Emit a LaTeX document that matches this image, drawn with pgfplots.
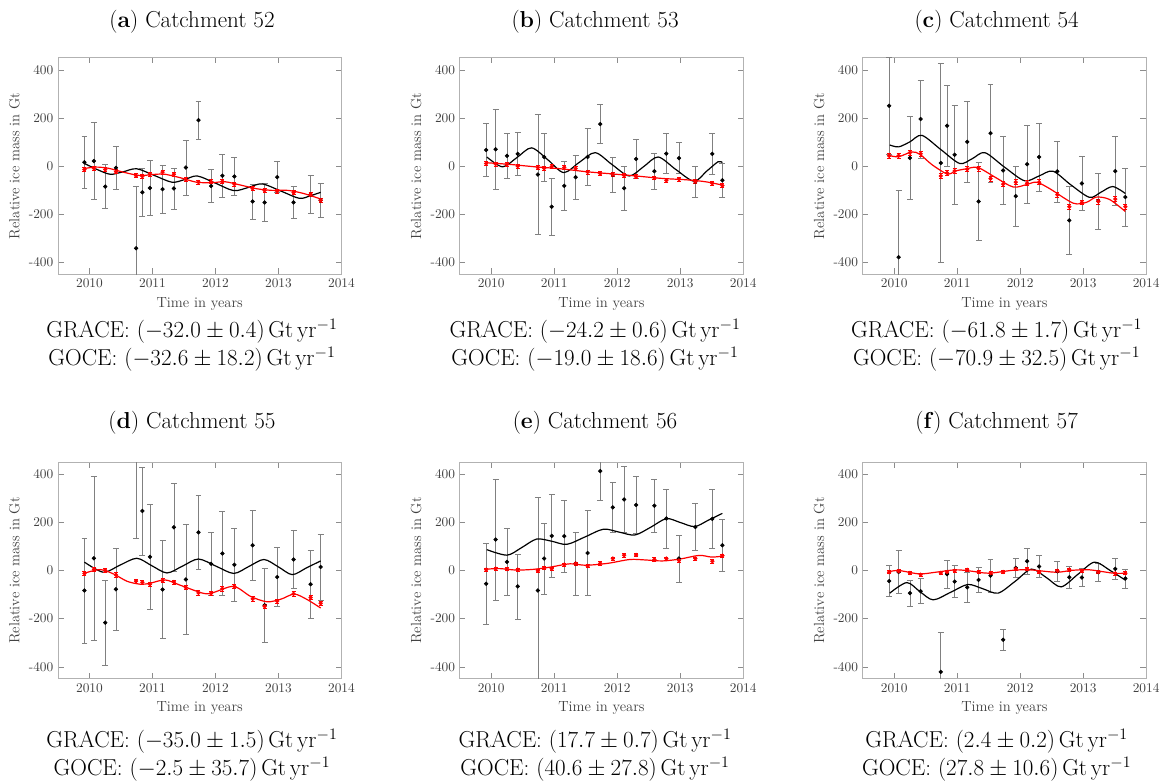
\documentclass[border=0pt]{standalone}
\usepackage{pgfplots}
\pgfplotsset{compat=1.18}

\pgfplotsset{
  catch/.style={
    scale only axis, width=212.6pt, height=162.2pt, anchor=south west,
    xmin=2009.5, xmax=2014, ymin=-450, ymax=450,
    xtick={2010,2011,2012,2013,2014}, xticklabels={2010,2011,2012,2013,2014},
    ytick={-400,-200,0,200,400}, yticklabels={-400,-200,0,200,400},
    axis line style={black!30},
    tick style={black!45},
    tick align=inside,
    tick label style={font=\fontsize{10}{12}\selectfont, text=black!75},
    label style={font=\fontsize{11}{13}\selectfont, text=black!75},
    xlabel={Time in years}, ylabel={Relative ice mass in Gt},
  },
  goce/.style={only marks, mark=*, mark size=1.4pt, black,
    error bars/.cd, y dir=both, y explicit,
    error bar style={black!50, line width=0.5pt},
    error mark options={rotate=90, black!50, mark size=2.2pt, line width=0.5pt}},
  grace/.style={only marks, mark=*, mark size=1.4pt, red,
    error bars/.cd, y dir=both, y explicit,
    error bar style={red, line width=0.5pt},
    error mark options={rotate=90, red, mark size=1.5pt, line width=0.5pt}},
  fitgoce/.style={black, line width=0.9pt, smooth, no markers},
  fitgrace/.style={red, line width=0.9pt, smooth, no markers},
}

\begin{document}
\begin{tikzpicture}
\useasboundingbox (0,0) rectangle (874.5pt,-586.5pt);

% (a) Catchment 52
\begin{axis}[catch, at={(43.5pt,-205.5pt)}]
\addplot[goce] coordinates {
(2009.92,15) +- (0,108) (2010.07,20) +- (0,160) (2010.25,-86) +- (0,92) (2010.42,-8) +- (0,90)
(2010.74,-343) +- (0,257) (2010.84,-110) +- (0,98) (2010.96,-92) +- (0,113) (2011.16,-97) +- (0,100)
(2011.34,-94) +- (0,85) (2011.53,-7) +- (0,114) (2011.73,190) +- (0,78) (2011.93,-84) +- (0,68)
(2012.11,-41) +- (0,89) (2012.30,-44) +- (0,79) (2012.59,-148) +- (0,73) (2012.78,-152) +- (0,79)
(2012.98,-47) +- (0,65) (2013.24,-152) +- (0,65) (2013.51,-119) +- (0,80) (2013.67,-143) +- (0,71)};
\addplot[fitgoce] coordinates {(2009.92,10) (2010.12,-15) (2010.33,-35) (2010.53,-25) (2010.75,-12) (2011.03,-40) (2011.31,-68) (2011.51,-57) (2011.71,-42) (2012.0,-72) (2012.29,-103) (2012.52,-90) (2012.74,-75) (2013.04,-105) (2013.33,-135) (2013.5,-125) (2013.67,-110)};
\addplot[fitgrace] coordinates {(2009.92,-11) (2010.1,-5) (2010.3,-10) (2010.55,-27) (2010.8,-40) (2011.05,-35) (2011.2,-35) (2011.45,-50) (2011.7,-68) (2011.95,-70) (2012.15,-66) (2012.4,-80) (2012.65,-95) (2012.9,-102) (2013.15,-102) (2013.4,-115) (2013.67,-138)};
\addplot[grace] coordinates {
(2009.92,-15) +- (0,8) (2010.07,-10) +- (0,8) (2010.25,-15) +- (0,8) (2010.42,-24) +- (0,8)
(2010.74,-41) +- (0,8) (2010.84,-43) +- (0,8) (2010.96,-35) +- (0,8) (2011.16,-26) +- (0,8)
(2011.34,-35) +- (0,8) (2011.53,-57) +- (0,8) (2011.73,-68) +- (0,8) (2011.93,-66) +- (0,8)
(2012.11,-65) +- (0,8) (2012.30,-76) +- (0,8) (2012.59,-94) +- (0,8) (2012.78,-102) +- (0,8)
(2012.98,-105) +- (0,8) (2013.24,-111) +- (0,8) (2013.51,-119) +- (0,8) (2013.67,-143) +- (0,8)};
\end{axis}

% (b) Catchment 53
\begin{axis}[catch, at={(344.8pt,-205.5pt)}]
\addplot[goce] coordinates {
(2009.92,66) +- (0,110) (2010.07,69) +- (0,166) (2010.25,42) +- (0,95) (2010.42,50) +- (0,89)
(2010.74,-36) +- (0,249) (2010.84,37) +- (0,100) (2010.96,-170) +- (0,118) (2011.16,-83) +- (0,101)
(2011.34,-47) +- (0,92) (2011.53,37) +- (0,119) (2011.73,174) +- (0,82) (2011.93,-37) +- (0,72)
(2012.11,-93) +- (0,93) (2012.30,29) +- (0,81) (2012.59,-22) +- (0,75) (2012.78,51) +- (0,83)
(2012.98,32) +- (0,65) (2013.24,-66) +- (0,66) (2013.51,50) +- (0,85) (2013.67,-60) +- (0,72)};
\addplot[fitgoce] coordinates {(2009.93,37) (2010.18,-4) (2010.41,35) (2010.64,75) (2010.9,25) (2011.15,-28) (2011.4,15) (2011.65,55) (2011.92,5) (2012.19,-42) (2012.42,-3) (2012.65,37) (2012.93,-15) (2013.22,-64) (2013.42,-22) (2013.6,17) (2013.67,14)};
\addplot[fitgrace] coordinates {(2009.93,13) (2010.3,6) (2010.7,-4) (2011.1,-12) (2011.5,-24) (2011.9,-33) (2012.3,-42) (2012.7,-52) (2013.1,-58) (2013.4,-66) (2013.67,-80)};
\addplot[grace] coordinates {
(2009.92,10) +- (0,8) (2010.07,8) +- (0,8) (2010.25,6) +- (0,8) (2010.42,-1) +- (0,8)
(2010.74,-7) +- (0,8) (2010.84,-10) +- (0,8) (2010.96,-3) +- (0,8) (2011.16,-6) +- (0,8)
(2011.34,-11) +- (0,8) (2011.53,-26) +- (0,8) (2011.73,-32) +- (0,8) (2011.93,-36) +- (0,8)
(2012.11,-40) +- (0,8) (2012.30,-45) +- (0,8) (2012.59,-50) +- (0,8) (2012.78,-60) +- (0,8)
(2012.98,-55) +- (0,8) (2013.24,-65) +- (0,8) (2013.51,-73) +- (0,8) (2013.67,-82) +- (0,8)};
\end{axis}

% (c) Catchment 54
\begin{axis}[catch, at={(647pt,-205.5pt)}]
\addplot[goce] coordinates {
(2009.92,250) +- (0,200) (2010.07,-380) +- (0,278) (2010.25,33) +- (0,172) (2010.42,195) +- (0,162)
(2010.74,12) +- (0,413) (2010.84,167) +- (0,170) (2010.96,46) +- (0,205) (2011.16,100) +- (0,168)
(2011.34,-148) +- (0,162) (2011.53,136) +- (0,205) (2011.73,-19) +- (0,140) (2011.93,-126) +- (0,124)
(2012.11,7) +- (0,162) (2012.30,37) +- (0,141) (2012.59,-23) +- (0,127) (2012.78,-227) +- (0,142)
(2012.98,-73) +- (0,113) (2013.24,-147) +- (0,116) (2013.51,-22) +- (0,144) (2013.67,-130) +- (0,121)};
\addplot[fitgoce] coordinates {(2009.93,87) (2010.07,79) (2010.25,100) (2010.44,127) (2010.74,68) (2011.04,10) (2011.24,30) (2011.44,55) (2011.75,-5) (2012.07,-62) (2012.3,-42) (2012.52,-22) (2012.8,-78) (2013.1,-131) (2013.28,-110) (2013.47,-86) (2013.67,-115)};
\addplot[fitgrace] coordinates {(2009.93,43) (2010.07,38) (2010.28,58) (2010.41,48) (2010.6,5) (2010.85,-35) (2010.96,-22) (2011.15,-12) (2011.33,-7) (2011.62,-50) (2011.89,-88) (2012.1,-78) (2012.26,-68) (2012.47,-95) (2012.84,-155) (2013.05,-152) (2013.21,-130) (2013.42,-140) (2013.67,-190)};
\addplot[grace] coordinates {
(2009.92,42) +- (0,10) (2010.07,42) +- (0,10) (2010.25,55) +- (0,10) (2010.42,50) +- (0,10)
(2010.74,-42) +- (0,10) (2010.84,-29) +- (0,10) (2010.96,-21) +- (0,10) (2011.16,-14) +- (0,10)
(2011.34,-11) +- (0,10) (2011.53,-53) +- (0,10) (2011.73,-76) +- (0,10) (2011.93,-68) +- (0,10)
(2012.11,-72) +- (0,10) (2012.30,-68) +- (0,10) (2012.59,-120) +- (0,10) (2012.78,-170) +- (0,10)
(2012.98,-152) +- (0,10) (2013.24,-148) +- (0,10) (2013.51,-138) +- (0,10) (2013.67,-170) +- (0,10)};
\end{axis}

% (d) Catchment 55
\begin{axis}[catch, at={(43.5pt,-509pt)}]
\addplot[goce] coordinates {
(2009.92,-83) +- (0,218) (2010.07,51) +- (0,342) (2010.25,-217) +- (0,178) (2010.42,-78) +- (0,170)
(2010.74,480) +- (0,345) (2010.84,248) +- (0,183) (2010.96,57) +- (0,220) (2011.16,-79) +- (0,204)
(2011.34,180) +- (0,183) (2011.53,-37) +- (0,228) (2011.73,159) +- (0,155) (2011.93,28) +- (0,130)
(2012.11,71) +- (0,175) (2012.30,24) +- (0,153) (2012.59,105) +- (0,145) (2012.78,-144) +- (0,155)
(2012.98,-27) +- (0,124) (2013.24,46) +- (0,122) (2013.51,-57) +- (0,142) (2013.67,15) +- (0,137)};
\addplot[fitgoce] coordinates {(2009.92,35) (2010.22,-7) (2010.48,22) (2010.75,51) (2010.99,20) (2011.23,-10) (2011.48,19) (2011.73,48) (2012.01,18) (2012.29,-12) (2012.53,17) (2012.77,46) (2013.0,15) (2013.22,-17) (2013.45,12) (2013.67,40)};
\addplot[fitgrace] coordinates {(2009.92,-11) (2010.17,4) (2010.38,-14) (2010.6,-45) (2010.81,-57) (2010.96,-53) (2011.2,-39) (2011.44,-61) (2011.81,-95) (2011.97,-91) (2012.29,-66) (2012.56,-108) (2012.82,-130) (2013.04,-119) (2013.25,-98) (2013.45,-120) (2013.67,-156)};
\addplot[grace] coordinates {
(2009.92,-12) +- (0,9) (2010.07,5) +- (0,9) (2010.25,1) +- (0,9) (2010.42,-18) +- (0,9)
(2010.74,-44) +- (0,9) (2010.84,-49) +- (0,9) (2010.96,-57) +- (0,9) (2011.16,-42) +- (0,9)
(2011.34,-48) +- (0,9) (2011.53,-71) +- (0,9) (2011.73,-93) +- (0,9) (2011.93,-95) +- (0,9)
(2012.11,-76) +- (0,9) (2012.30,-66) +- (0,9) (2012.59,-118) +- (0,9) (2012.78,-149) +- (0,9)
(2012.98,-127) +- (0,9) (2013.24,-97) +- (0,9) (2013.51,-112) +- (0,9) (2013.67,-136) +- (0,9)};
\end{axis}

% (e) Catchment 56
\begin{axis}[catch, at={(344.8pt,-509pt)}]
\addplot[goce] coordinates {
(2009.92,-55) +- (0,168) (2010.07,129) +- (0,251) (2010.25,36) +- (0,139) (2010.42,-66) +- (0,135)
(2010.74,-83) +- (0,387) (2010.84,50) +- (0,148) (2010.96,144) +- (0,173) (2011.16,143) +- (0,149)
(2011.34,29) +- (0,131) (2011.53,73) +- (0,176) (2011.73,414) +- (0,122) (2011.93,263) +- (0,103)
(2012.11,296) +- (0,137) (2012.30,273) +- (0,118) (2012.59,270) +- (0,110) (2012.78,217) +- (0,123)
(2012.98,50) +- (0,98) (2013.24,181) +- (0,98) (2013.51,215) +- (0,121) (2013.67,105) +- (0,110)};
\addplot[fitgoce] coordinates {(2009.93,87) (2010.25,64) (2010.48,95) (2010.72,131) (2010.96,122) (2011.2,109) (2011.49,140) (2011.78,172) (2012.03,160) (2012.28,148) (2012.53,180) (2012.78,216) (2013.0,200) (2013.23,183) (2013.45,210) (2013.67,238)};
\addplot[fitgrace] coordinates {(2009.93,6) (2010.14,8) (2010.4,2) (2010.67,5) (2010.93,14) (2011.25,28) (2011.5,22) (2011.85,30) (2012.2,46) (2012.45,44) (2012.72,40) (2013.0,48) (2013.3,63) (2013.5,56) (2013.67,60)};
\addplot[grace] coordinates {
(2009.92,4) +- (0,7) (2010.07,8) +- (0,7) (2010.25,6) +- (0,7) (2010.42,4) +- (0,7)
(2010.74,-1) +- (0,7) (2010.84,11) +- (0,7) (2010.96,8) +- (0,7) (2011.16,25) +- (0,7)
(2011.34,29) +- (0,7) (2011.53,19) +- (0,7) (2011.73,30) +- (0,7) (2011.93,50) +- (0,7)
(2012.11,64) +- (0,7) (2012.30,65) +- (0,7) (2012.59,46) +- (0,7) (2012.78,50) +- (0,7)
(2012.98,42) +- (0,7) (2013.24,50) +- (0,7) (2013.51,39) +- (0,7) (2013.67,62) +- (0,7)};
\end{axis}

% (f) Catchment 57
\begin{axis}[catch, at={(647pt,-509pt)}]
\addplot[goce] coordinates {
(2009.92,-44) +- (0,64) (2010.07,-6) +- (0,90) (2010.25,-94) +- (0,54) (2010.42,-86) +- (0,52)
(2010.74,-422) +- (0,166) (2010.84,-15) +- (0,57) (2010.96,-46) +- (0,67) (2011.16,-70) +- (0,62)
(2011.34,-39) +- (0,51) (2011.53,-21) +- (0,68) (2011.73,-288) +- (0,44) (2011.93,11) +- (0,40)
(2012.11,39) +- (0,54) (2012.30,17) +- (0,47) (2012.59,-3) +- (0,42) (2012.78,-28) +- (0,47)
(2012.98,-29) +- (0,38) (2013.24,-7) +- (0,37) (2013.51,7) +- (0,45) (2013.67,-33) +- (0,40)};
\addplot[fitgoce] coordinates {(2009.93,-94) (2010.2,-50) (2010.41,-88) (2010.62,-122) (2010.9,-90) (2011.17,-58) (2011.41,-76) (2011.65,-94) (2011.92,-45) (2012.18,6) (2012.42,-30) (2012.65,-68) (2012.92,-15) (2013.18,35) (2013.43,0) (2013.67,-40)};
\addplot[fitgrace] coordinates {(2009.93,-4) (2010.08,0) (2010.4,-14) (2010.66,-7) (2010.98,3) (2011.24,-3) (2011.5,-11) (2011.88,1) (2012.15,3) (2012.57,-7) (2012.83,1) (2013.1,3) (2013.48,-11) (2013.67,-11)};
\addplot[grace] coordinates {
(2009.92,-7) +- (0,6) (2010.07,-3) +- (0,6) (2010.25,-10) +- (0,6) (2010.42,-17) +- (0,6)
(2010.74,-10) +- (0,6) (2010.84,-6) +- (0,6) (2010.96,-1) +- (0,6) (2011.16,3) +- (0,6)
(2011.34,-6) +- (0,6) (2011.53,-11) +- (0,6) (2011.73,-6) +- (0,6) (2011.93,7) +- (0,6)
(2012.11,6) +- (0,6) (2012.30,-6) +- (0,6) (2012.59,-1) +- (0,6) (2012.78,4) +- (0,6)
(2012.98,-1) +- (0,6) (2013.24,-6) +- (0,6) (2013.51,-12) +- (0,6) (2013.67,-11) +- (0,6)};
\end{axis}

% captions and rates
\begin{scope}[every node/.style={font=\fontsize{17.3}{20}\selectfont, inner sep=0pt}]
\node at (144pt,-16.3pt) {(\textbf{a}) Catchment 52};
\node at (446.3pt,-16.3pt) {(\textbf{b}) Catchment 53};
\node at (747.5pt,-16.3pt) {(\textbf{c}) Catchment 54};
\node at (144pt,-317.3pt) {(\textbf{d}) Catchment 55};
\node at (446.3pt,-317.3pt) {(\textbf{e}) Catchment 56};
\node at (747.5pt,-317.3pt) {(\textbf{f}) Catchment 57};

\node at (144pt,-248.3pt) {GRACE: $(-32.0 \pm 0.4)\,\mathrm{Gt\,yr^{-1}}$};
\node at (144pt,-269.3pt) {GOCE: $(-32.6 \pm 18.2)\,\mathrm{Gt\,yr^{-1}}$};
\node at (446.3pt,-248.3pt) {GRACE: $(-24.2 \pm 0.6)\,\mathrm{Gt\,yr^{-1}}$};
\node at (446.3pt,-269.3pt) {GOCE: $(-19.0 \pm 18.6)\,\mathrm{Gt\,yr^{-1}}$};
\node at (747.5pt,-248.3pt) {GRACE: $(-61.8 \pm 1.7)\,\mathrm{Gt\,yr^{-1}}$};
\node at (747.5pt,-269.3pt) {GOCE: $(-70.9 \pm 32.5)\,\mathrm{Gt\,yr^{-1}}$};

\node at (144pt,-555.8pt) {GRACE: $(-35.0 \pm 1.5)\,\mathrm{Gt\,yr^{-1}}$};
\node at (144pt,-576.8pt) {GOCE: $(-2.5 \pm 35.7)\,\mathrm{Gt\,yr^{-1}}$};
\node at (446.3pt,-555.8pt) {GRACE: $(17.7 \pm 0.7)\,\mathrm{Gt\,yr^{-1}}$};
\node at (446.3pt,-576.8pt) {GOCE: $(40.6 \pm 27.8)\,\mathrm{Gt\,yr^{-1}}$};
\node at (747.5pt,-555.8pt) {GRACE: $(2.4 \pm 0.2)\,\mathrm{Gt\,yr^{-1}}$};
\node at (747.5pt,-576.8pt) {GOCE: $(27.8 \pm 10.6)\,\mathrm{Gt\,yr^{-1}}$};
\end{scope}
\end{tikzpicture}
\end{document}
